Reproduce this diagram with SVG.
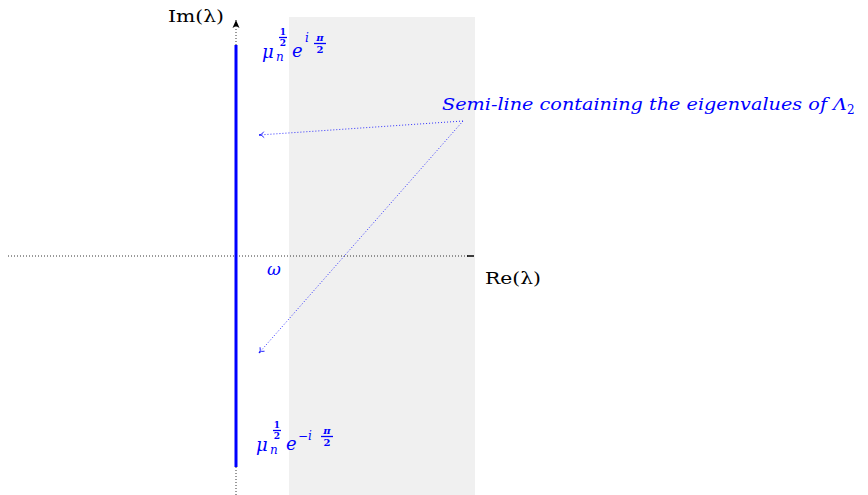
<svg xmlns="http://www.w3.org/2000/svg" width="868" height="495" viewBox="0 0 868 495">
<defs>
<marker id="ab" markerWidth="8" markerHeight="8" refX="6" refY="4" orient="auto" markerUnits="userSpaceOnUse">
<path d="M1,1 Q3,4 6,4 Q3,4 1,7" fill="none" stroke="#0000ff" stroke-width="0.8"/>
</marker>
<marker id="ak" markerWidth="10" markerHeight="10" refX="8" refY="5" orient="auto" markerUnits="userSpaceOnUse">
<path d="M0,1.5 L8,5 L0,8.5 L2,5 Z" fill="#000"/>
</marker>
</defs>
<rect x="289" y="17" width="186" height="478" fill="#f0f0f0"/>
<g id="axes">
<line x1="8" y1="256" x2="468" y2="256" stroke="#000" stroke-width="0.8" stroke-dasharray="1,2"/>
<line x1="467" y1="256" x2="474" y2="256" stroke="#000" stroke-width="1.5"/>
<line x1="236" y1="495" x2="236" y2="20" stroke="#000" stroke-width="0.8" stroke-dasharray="1,2" marker-end="url(#ak)"/>
<line x1="236" y1="45" x2="236" y2="467" stroke="#0000ff" stroke-width="3"/>
</g>
<g id="connectors">
<line x1="463" y1="121" x2="259" y2="135" stroke="#0000ff" stroke-width="0.8" stroke-dasharray="1,2" marker-end="url(#ab)"/>
<line x1="463" y1="121" x2="259" y2="353" stroke="#0000ff" stroke-width="0.8" stroke-dasharray="1,2" marker-end="url(#ab)"/>
</g>
<g id="labels" font-family="DejaVu Serif, serif">
<text x="168" y="22" font-size="17" textLength="56" lengthAdjust="spacingAndGlyphs">Im(λ)</text>
<text x="485" y="284" font-size="17" textLength="56" lengthAdjust="spacingAndGlyphs">Re(λ)</text>
<text x="267" y="275" font-size="17" fill="#0000ff" font-style="italic">ω</text>
<text x="442" y="110" font-size="17" fill="#0000ff" font-style="italic"><tspan textLength="405" lengthAdjust="spacingAndGlyphs">Semi-line containing the eigenvalues of Λ</tspan><tspan font-size="12" dy="4" font-style="normal">2</tspan></text>
<g id="top-label" fill="#0000ff">
<text x="262" y="58" font-size="18" font-style="italic">μ</text>
<text x="276" y="61" font-size="12" font-style="italic">n</text>
<text x="283" y="35" font-size="9" font-weight="bold" text-anchor="middle">1</text>
<line x1="279" y1="37.5" x2="287" y2="37.5" stroke="#0000ff" stroke-width="1.3"/>
<text x="283" y="46" font-size="9" font-weight="bold" text-anchor="middle">2</text>
<text x="292" y="57" font-size="18" font-style="italic">e</text>
<text x="305" y="42" font-size="12" font-style="italic">i</text>
<text x="320" y="41" font-size="10" font-style="italic" font-weight="bold" text-anchor="middle">π</text>
<line x1="314" y1="43.5" x2="326" y2="43.5" stroke="#0000ff" stroke-width="1.3"/>
<text x="320" y="53" font-size="10" font-weight="bold" text-anchor="middle">2</text>
</g>
<g id="bottom-label" fill="#0000ff">
<text x="256" y="451" font-size="18" font-style="italic">μ</text>
<text x="270" y="454" font-size="12" font-style="italic">n</text>
<text x="277" y="428" font-size="9" font-weight="bold" text-anchor="middle">1</text>
<line x1="273" y1="430.5" x2="281" y2="430.5" stroke="#0000ff" stroke-width="1.3"/>
<text x="277" y="439" font-size="9" font-weight="bold" text-anchor="middle">2</text>
<text x="286" y="450" font-size="18" font-style="italic">e</text>
<text x="298" y="440" font-size="12" font-style="italic">−i</text>
<text x="327" y="434" font-size="10" font-style="italic" font-weight="bold" text-anchor="middle">π</text>
<line x1="321" y1="436.5" x2="333" y2="436.5" stroke="#0000ff" stroke-width="1.3"/>
<text x="327" y="446" font-size="10" font-weight="bold" text-anchor="middle">2</text>
</g>
</g>
</svg>
